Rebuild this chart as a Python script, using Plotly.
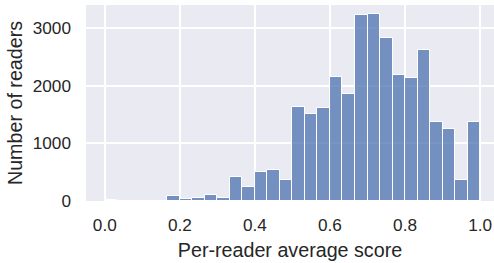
import numpy as np
import plotly.graph_objects as go

# Histogram: 30 equal bins on [0, 1]
bin_edges = list(np.linspace(0.0, 1.0, 31))
counts = [15, 0, 0, 8, 8, 85, 40, 55, 100, 48,
          425, 235, 510, 540, 362, 1630, 1503, 1617, 2160, 1855,
          3220, 3242, 2822, 2194, 2143, 2626, 1364, 1242, 372, 1364]
x_ticks = [0.0, 0.2, 0.4, 0.6, 0.8, 1.0]
x_tick_labels = ["0.0", "0.2", "0.4", "0.6", "0.8", "1.0"]
y_ticks = [0, 1000, 2000, 3000]
y_tick_labels = ["0", "1000", "2000", "3000"]

centers = [(a + b) / 2 for a, b in zip(bin_edges[:-1], bin_edges[1:])]
widths = [b - a for a, b in zip(bin_edges[:-1], bin_edges[1:])]

FONT = "Liberation Sans, Arial, sans-serif"
TXT = "#262626"

fig = go.Figure(go.Bar(
    x=centers, y=counts, width=widths,
    marker=dict(color="rgba(76,114,176,0.75)", line=dict(color="white", width=1)),
    hoverinfo="x+y",
))

fig.update_layout(
    width=494, height=263,
    margin=dict(l=86, r=0, t=5, b=62, autoexpand=False),
    paper_bgcolor="white",
    plot_bgcolor="#EAEAF2",
    showlegend=False,
    bargap=0,
    font=dict(family=FONT, color=TXT),
)
fig.update_xaxes(
    range=[-0.05, 1.037],
    tickvals=x_ticks, ticktext=x_tick_labels,
    showgrid=True, gridcolor="white", gridwidth=1.6,
    zeroline=False, showline=False, ticks="",
    automargin=False, ticklabeloverflow="allow",
    tickfont=dict(size=17.2, family=FONT, color=TXT),
    ticklabelstandoff=12,
    title=dict(text="Per-reader average score", font=dict(size=19.7, family=FONT, color=TXT), standoff=9),
)
fig.update_yaxes(
    range=[0, 3401],
    tickvals=y_ticks, ticktext=y_tick_labels,
    showgrid=True, gridcolor="white", gridwidth=1.6,
    zeroline=False, showline=False, ticks="",
    automargin=False, ticklabeloverflow="allow",
    tickfont=dict(size=17.2, family=FONT, color=TXT),
    ticklabelstandoff=14,
    title=dict(text="Number of readers", font=dict(size=19.7, family=FONT, color=TXT), standoff=4),
)

fig.write_html(
    "out.html",
    config={"displayModeBar": False},
    post_script="document.body.style.margin='0';document.body.style.overflow='hidden';",
)
